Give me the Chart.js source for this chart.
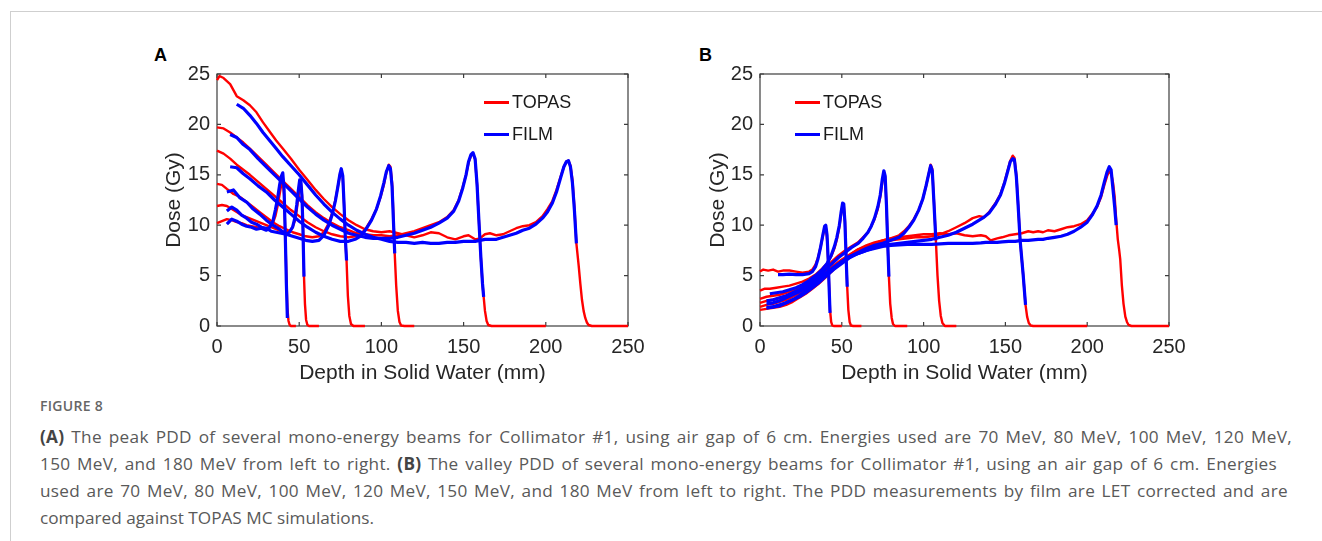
<!DOCTYPE html>
<html>
<head>
<meta charset="utf-8">
<script src="https://cdn.jsdelivr.net/npm/chart.js@4.4.1/dist/chart.umd.min.js"></script>
<style>
  body { margin: 0; width: 1322px; height: 541px; background: #fff; overflow: hidden; position: relative; font-family: "Liberation Sans", Arial, sans-serif; }
  .frame { position: absolute; left: 10px; top: 11px; right: 0; bottom: 0; border-left: 1px solid #cfcfcf; border-top: 1px solid #cfcfcf; }
  .panel { position: absolute; top: 40px; width: 520px; height: 350px; }
  .tag { position: absolute; font-weight: bold; font-size: 18px; line-height: 18px; color: #000; }
  .key { position: absolute; font-size: 18px; line-height: 20px; color: #1a1a1a; }
  .key i { position: absolute; left: -28px; top: 9px; width: 25px; height: 2.5px; }
  .cap { position: absolute; left: 40px; font-family: "Open Sans", sans-serif; color: #595959; }
  .fig { top: 396px; font-size: 14px; font-weight: 600; color: #666; letter-spacing: 0.3px; line-height: 20px; }
  .txt { top: 423px; font-size: 17.2px; line-height: 27px; }
  .txt div { text-align: justify; text-align-last: justify; letter-spacing: 0.3px; }
  .txt div.last { text-align-last: left; letter-spacing: 0; }
  .txt b { color: #444; }
</style>
</head>
<body>
<div class="frame"></div>

<div class="tag" style="left:154px; top:46px;">A</div>
<div class="tag" style="left:699px; top:46px;">B</div>

<canvas id="peakChart" class="panel" style="left:140px;" width="520" height="350"></canvas>
<canvas id="valleyChart" class="panel" style="left:690px;" width="520" height="350"></canvas>

<div class="key" style="left:512px; top:92px;"><i style="background:#ff0000"></i>TOPAS</div>
<div class="key" style="left:512px; top:124px;"><i style="background:#0000ff"></i>FILM</div>
<div class="key" style="left:823px; top:92px;"><i style="background:#ff0000"></i>TOPAS</div>
<div class="key" style="left:823px; top:124px;"><i style="background:#0000ff"></i>FILM</div>

<div class="cap fig">FIGURE 8</div>
<div class="cap txt">
  <div style="width:1252px"><b>(A)</b> The peak PDD of several mono-energy beams for Collimator #1, using air gap of 6 cm. Energies used are 70 MeV, 80 MeV, 100 MeV, 120 MeV,</div>
  <div style="width:1237px">150 MeV, and 180 MeV from left to right. <b>(B)</b> The valley PDD of several mono-energy beams for Collimator #1, using an air gap of 6 cm. Energies</div>
  <div style="width:1248px">used are 70 MeV, 80 MeV, 100 MeV, 120 MeV, 150 MeV, and 180 MeV from left to right. The PDD measurements by film are LET corrected and are</div>
  <div class="last">compared against TOPAS MC simulations.</div>
</div>

<script>
// axis ticks
const xTicks = [0, 50, 100, 150, 200, 250];
const yTicks = [0, 5, 10, 15, 20, 25];
const energies = [70, 80, 100, 120, 150, 180];

// (A) peak PDD, depth in mm, dose in Gy
const peak70Depth = [0, 3, 6, 9, 12, 15, 18, 21, 24, 27, 30, 32, 34, 35.5, 37, 38, 39, 40, 40.8, 41.5, 42.2, 42.8, 43.5, 44.2, 45, 48];
const peak70Topas = [10.2, 10.4, 10.6, 10.5, 10.3, 10.2, 10.0, 9.9, 9.8, 9.7, 9.7, 9.8, 10.2, 10.9, 12.0, 13.0, 13.9, 14.3, 13.0, 9.5, 5.0, 1.8, 0.5, 0.1, 0, 0];
const peak70Film = [null, null, 10.1, 10.6, 10.4, 10.1, 9.9, 9.8, 9.6, 9.7, 9.5, 9.8, 10.4, 11.5, 12.8, 13.9, 14.8, 15.2, 13.6, 9.2, 4.2, 0.8, null, null, null, null];

const peak80Depth = [0, 3, 6, 9, 12, 15, 18, 21, 24, 27, 30, 33, 36, 39, 42, 44, 46, 47.5, 48.5, 49.5, 50.3, 51, 51.7, 52.3, 52.9, 53.5, 54.2, 55, 56, 62];
const peak80Topas = [11.9, 12.0, 11.9, 11.6, 11.3, 11.0, 10.8, 10.6, 10.4, 10.2, 10.0, 9.8, 9.6, 9.4, 9.3, 9.4, 9.8, 10.5, 11.5, 12.8, 13.8, 14.2, 13.0, 10.0, 5.0, 2.2, 0.6, 0.1, 0, 0];
const peak80Film = [null, null, 11.4, 11.8, 11.5, 11.0, 10.7, 10.3, 10.1, 9.8, 9.7, 9.4, 9.3, 9.2, 9.1, 9.3, 9.8, 10.8, 12.0, 13.5, 14.5, 14.4, 12.8, 9.5, 4.9, null, null, null, null, null];

const peak100Depth = [0, 3, 6, 10, 14, 18, 22, 26, 30, 34, 38, 42, 46, 50, 54, 58, 62, 65, 68, 70, 72, 73.5, 74.8, 75.6, 76.5, 77.3, 78.1, 78.8, 79.6, 80.5, 81.5, 83, 90];
const peak100Topas = [14.1, 14.0, 13.6, 13.1, 12.8, 12.3, 11.8, 11.3, 10.8, 10.3, 9.9, 9.6, 9.3, 9.1, 8.9, 8.8, 8.9, 9.3, 10.2, 11.2, 12.5, 13.8, 15.0, 15.4, 14.8, 12.0, 8.5, 6.5, 3.0, 1.0, 0.2, 0, 0];
const peak100Film = [null, null, 13.3, 13.5, 12.7, 12.3, 11.6, 11.1, 10.5, 10.0, 9.6, 9.1, 8.9, 8.7, 8.5, 8.4, 8.5, 9.0, 10.0, 11.0, 12.4, 13.8, 15.1, 15.6, 14.9, 12.0, 8.6, 6.5, null, null, null, null, null];

const peak120Depth = [0, 4, 8, 12, 16, 20, 25, 30, 35, 40, 45, 50, 55, 60, 65, 70, 75, 80, 84, 88, 91, 94, 97, 99.5, 101.5, 103, 104.5, 105.5, 106.5, 107.3, 108.1, 109, 110, 111, 112, 114, 120];
const peak120Topas = [17.4, 17.1, 16.6, 16.0, 15.5, 15.0, 14.3, 13.6, 12.9, 12.2, 11.5, 10.9, 10.3, 9.8, 9.4, 9.1, 8.9, 8.8, 8.9, 9.2, 9.8, 10.6, 11.6, 12.8, 14.0, 15.2, 16.0, 15.8, 14.2, 11.0, 7.2, 4.0, 1.5, 0.4, 0.05, 0, 0];
const peak120Film = [null, null, 15.8, 15.7, 15.1, 14.6, 13.9, 13.3, 12.5, 11.8, 11.1, 10.4, 9.8, 9.3, 8.9, 8.6, 8.4, 8.4, 8.6, 9.0, 9.7, 10.5, 11.6, 12.9, 14.2, 15.3, 15.9, 15.6, 13.8, 10.5, 7.2, null, null, null, null, null, null];

const peak150Depth = [0, 4, 8, 12, 16, 20, 25, 30, 35, 40, 45, 50, 55, 60, 65, 70, 75, 80, 85, 90, 95, 100, 105, 110, 115, 120, 125, 130, 135, 140, 144, 147, 149.5, 151.5, 153, 154.5, 155.7, 157, 158.2, 159.3, 160.5, 161.5, 162.2, 163, 164, 165, 167, 200];
const peak150Topas = [19.7, 19.6, 19.2, 18.7, 18.2, 17.6, 16.8, 16.0, 15.2, 14.4, 13.6, 12.8, 12.0, 11.3, 10.7, 10.2, 9.8, 9.5, 9.2, 9.1, 9.0, 9.0, 8.9, 9.0, 9.2, 9.4, 9.7, 10.0, 10.3, 10.8, 11.5, 12.5, 13.8, 15.0, 16.2, 16.9, 17.1, 16.5, 14.0, 10.5, 6.8, 4.2, 2.9, 1.5, 0.5, 0.1, 0, 0];
const peak150Film = [null, null, 19.0, 18.7, 18.0, 17.5, 16.6, 15.8, 15.0, 14.2, 13.4, 12.6, 11.8, 11.1, 10.5, 10.0, 9.6, 9.2, 9.0, 8.8, 8.7, 8.7, 8.7, 8.8, 9.0, 9.2, 9.5, 9.8, 10.2, 10.7, 11.4, 12.4, 13.7, 15.0, 16.3, 17.0, 17.2, 16.6, 14.0, 10.5, 6.8, 4.2, 2.9, null, null, null, null, null];

const peak180Depth = [0, 1.5, 4, 8, 12, 16, 20, 24, 28, 32, 36, 40, 45, 50, 55, 60, 65, 70, 75, 80, 85, 90, 95, 100, 105, 110, 115, 120, 125, 130, 135, 140, 145, 150, 153, 157, 160, 163, 166, 170, 174, 178, 182, 186, 190, 194, 198, 201, 204, 206.5, 209, 211, 212.5, 213.8, 215, 216.2, 217.4, 218.6, 220, 221, 222, 223, 224, 225, 226, 228, 250];
const peak180Topas = [24.4, 24.8, 24.6, 24.0, 22.8, 22.4, 21.9, 21.2, 20.2, 19.3, 18.4, 17.6, 16.6, 15.5, 14.5, 13.5, 12.6, 11.8, 11.1, 10.5, 10.0, 9.6, 9.4, 9.3, 9.4, 9.2, 9.0, 8.8, 9.0, 9.3, 9.2, 8.8, 8.6, 8.9, 9.0, 8.6, 8.7, 9.1, 9.2, 9.0, 9.1, 9.4, 9.7, 9.9, 10.0, 10.3, 10.9, 11.6, 12.4, 13.5, 14.8, 15.8, 16.3, 16.4, 15.9, 14.5, 11.8, 8.2, 6.0, 4.2, 2.6, 1.5, 0.8, 0.35, 0.1, 0, 0];
const peak180Film = [null, null, null, null, 22.0, 21.6, 20.9, 20.1, 19.2, 18.4, 17.6, 16.8, 15.9, 15.0, 14.0, 13.0, 12.1, 11.3, 10.6, 10.0, 9.5, 9.1, 8.8, 8.6, 8.4, 8.3, 8.3, 8.2, 8.3, 8.2, 8.2, 8.3, 8.3, 8.4, 8.4, 8.4, 8.5, 8.6, 8.6, 8.6, 8.8, 9.0, 9.2, 9.5, 9.7, 10.1, 10.7, 11.3, 12.2, 13.3, 14.7, 15.8, 16.3, 16.4, 15.8, 14.2, 11.5, 8.2, null, null, null, null, null, null, null, null, null];

// (B) valley PDD
const valley70Depth = [0, 2, 5, 8, 11, 14, 18, 22, 26, 30, 32, 34, 35.5, 37, 38.5, 39.5, 40.2, 41, 41.7, 42.3, 42.8, 43.5, 44.2, 45, 50];
const valley70Topas = [5.4, 5.6, 5.5, 5.6, 5.4, 5.5, 5.5, 5.4, 5.3, 5.4, 5.6, 6.1, 6.8, 7.8, 9.0, 9.7, 9.8, 8.6, 6.3, 3.8, 1.6, 0.4, 0.05, 0, 0];
const valley70Film = [null, null, null, null, 5.1, 5.1, 5.15, 5.1, 5.1, 5.2, 5.4, 5.9, 6.7, 7.8, 9.1, 9.9, 10.0, 9.0, 6.5, 3.6, 1.3, null, null, null, null];

const valley80Depth = [0, 3, 6, 10, 14, 18, 22, 26, 30, 34, 38, 41, 43.5, 45.5, 47, 48.5, 49.5, 50.5, 51.2, 51.9, 52.6, 53.3, 54, 54.8, 55.6, 57, 62];
const valley80Topas = [3.5, 3.7, 3.7, 3.8, 3.9, 4.0, 4.2, 4.4, 4.7, 5.1, 5.7, 6.2, 6.9, 7.7, 8.6, 9.8, 11.0, 12.0, 12.0, 10.5, 7.5, 3.9, 1.6, 0.4, 0.05, 0, 0];
const valley80Film = [null, null, 3.2, 3.3, 3.4, 3.6, 3.8, 4.1, 4.5, 5.0, 5.6, 6.2, 7.0, 7.9, 8.8, 10.0, 11.2, 12.2, 12.1, 10.3, 7.0, 3.9, null, null, null, null, null];

const valley100Depth = [0, 4, 8, 12, 16, 20, 24, 28, 32, 36, 40, 44, 48, 52, 56, 60, 63, 66, 68, 70, 72, 73.5, 74.8, 75.7, 76.5, 77.3, 78.1, 78.8, 79.6, 80.5, 81.3, 82.5, 90];
const valley100Topas = [2.7, 2.9, 3.0, 3.1, 3.3, 3.5, 3.8, 4.2, 4.7, 5.2, 5.8, 6.4, 7.0, 7.5, 7.9, 8.3, 8.8, 9.3, 9.9, 10.6, 11.6, 12.8, 14.3, 15.2, 14.8, 12.0, 8.0, 4.9, 2.2, 0.8, 0.2, 0, 0];
const valley100Film = [null, 2.5, 2.6, 2.8, 3.0, 3.3, 3.6, 4.0, 4.5, 5.0, 5.6, 6.2, 6.8, 7.3, 7.8, 8.2, 8.7, 9.3, 9.9, 10.7, 11.8, 13.0, 14.6, 15.4, 14.9, 12.0, 8.0, 4.9, null, null, null, null, null];

const valley120Depth = [0, 4, 8, 12, 16, 20, 24, 28, 32, 36, 40, 45, 50, 55, 60, 65, 70, 75, 80, 85, 88, 91, 94, 97, 99.5, 101.5, 103, 104.3, 105.3, 106.3, 107.5, 108.5, 109.5, 110.5, 111.5, 113, 120];
const valley120Topas = [2.3, 2.5, 2.6, 2.8, 3.0, 3.3, 3.6, 4.0, 4.4, 4.9, 5.4, 6.0, 6.6, 7.1, 7.6, 8.0, 8.3, 8.5, 8.7, 9.0, 9.4, 9.9, 10.6, 11.5, 12.6, 13.9, 15.0, 16.0, 15.6, 12.5, 8.5, 5.0, 2.5, 1.0, 0.3, 0, 0];
const valley120Film = [null, 2.2, 2.3, 2.5, 2.8, 3.1, 3.4, 3.8, 4.2, 4.7, 5.2, 5.8, 6.4, 6.9, 7.3, 7.7, 8.0, 8.2, 8.5, 8.8, 9.2, 9.8, 10.5, 11.5, 12.6, 13.9, 15.0, 15.9, 15.4, 12.3, 8.5, null, null, null, null, null, null];

const valley150Depth = [0, 4, 8, 12, 16, 20, 24, 28, 32, 36, 40, 45, 50, 55, 60, 65, 70, 75, 80, 85, 90, 95, 100, 105, 110, 115, 120, 125, 130, 134, 137, 140, 144, 147, 149.5, 151.5, 153, 154.5, 155.5, 156.7, 157.8, 159, 160.8, 162.3, 163.3, 164.3, 165.5, 167, 200];
const valley150Topas = [1.9, 2.1, 2.2, 2.4, 2.6, 2.9, 3.2, 3.6, 4.1, 4.6, 5.2, 5.9, 6.5, 7.1, 7.6, 7.9, 8.2, 8.4, 8.5, 8.6, 8.7, 8.8, 8.8, 8.9, 9.1, 9.4, 9.8, 10.2, 10.7, 10.9, 10.8, 11.3, 12.2, 13.1, 14.3, 15.5, 16.4, 16.9, 16.7, 15.0, 12.0, 8.5, 5.2, 2.1, 0.9, 0.3, 0.05, 0, 0];
const valley150Film = [null, 1.8, 1.9, 2.1, 2.3, 2.6, 2.9, 3.3, 3.8, 4.3, 4.9, 5.6, 6.2, 6.8, 7.2, 7.5, 7.8, 8.0, 8.1, 8.2, 8.3, 8.4, 8.5, 8.6, 8.8, 9.0, 9.3, 9.7, 10.1, 10.5, 10.8, 11.2, 12.1, 13.0, 14.2, 15.4, 16.3, 16.6, 16.5, 14.8, 11.9, 8.5, 5.2, 2.1, null, null, null, null, null];

const valley180Depth = [0, 4, 8, 12, 16, 20, 24, 28, 32, 36, 40, 45, 50, 55, 60, 65, 70, 75, 80, 85, 90, 95, 100, 105, 110, 115, 120, 125, 130, 135, 138, 141, 145, 148, 152, 156, 160, 164, 167, 170, 173, 176, 180, 184, 188, 192, 196, 200, 203, 206, 208.5, 210.5, 212.2, 213.5, 214.6, 215.8, 216.8, 217.7, 218.7, 219.5, 220.2, 221.2, 222.2, 223.3, 224.3, 225.3, 227, 250];
const valley180Topas = [1.6, 1.7, 1.8, 1.9, 2.1, 2.4, 2.8, 3.2, 3.7, 4.2, 4.8, 5.6, 6.4, 7.0, 7.5, 7.9, 8.2, 8.5, 8.7, 8.8, 8.9, 9.0, 9.1, 9.1, 9.2, 9.1, 9.2, 9.0, 8.9, 9.0, 8.9, 8.5, 8.7, 8.8, 9.0, 9.1, 9.2, 9.4, 9.3, 9.4, 9.3, 9.5, 9.4, 9.6, 9.8, 9.9, 10.1, 10.5, 11.1, 11.8, 12.8, 14.0, 14.9, 15.3, 15.2, 14.2, 12.8, 10.6, 8.6, 7.6, 6.6, 4.0, 2.2, 0.93, 0.4, 0.1, 0, 0];
const valley180Film = [null, 1.8, 1.9, 2.0, 2.3, 2.6, 3.0, 3.5, 4.0, 4.6, 5.2, 5.8, 6.4, 6.9, 7.2, 7.5, 7.7, 7.9, 8.0, 8.05, 8.1, 8.1, 8.1, 8.1, 8.15, 8.2, 8.2, 8.2, 8.2, 8.25, 8.3, 8.3, 8.3, 8.35, 8.4, 8.4, 8.5, 8.5, 8.55, 8.6, 8.6, 8.7, 8.8, 8.9, 9.1, 9.4, 9.8, 10.3, 11.0, 11.9, 13.0, 14.3, 15.3, 15.8, 15.5, 13.5, 11.8, 10.0, null, null, null, null, null, null, null, null, null, null];

const peakCurves = [
  [peak70Depth, peak70Topas, peak70Film],
  [peak80Depth, peak80Topas, peak80Film],
  [peak100Depth, peak100Topas, peak100Film],
  [peak120Depth, peak120Topas, peak120Film],
  [peak150Depth, peak150Topas, peak150Film],
  [peak180Depth, peak180Topas, peak180Film]
];
const valleyCurves = [
  [valley70Depth, valley70Topas, valley70Film],
  [valley80Depth, valley80Topas, valley80Film],
  [valley100Depth, valley100Topas, valley100Film],
  [valley120Depth, valley120Topas, valley120Film],
  [valley150Depth, valley150Topas, valley150Film],
  [valley180Depth, valley180Topas, valley180Film]
];

const FONT = '"Liberation Sans", Arial, sans-serif';
const INK = '#262626';

function buildSets(curves) {
  const sets = [];
  curves.forEach(function(c, i) {
    const depth = c[0];
    sets.push({
      label: 'TOPAS ' + energies[i] + ' MeV',
      data: depth.map((d, k) => ({ x: d, y: c[1][k] })),
      borderColor: '#ff0000',
      borderWidth: 2.4,
      order: 2
    });
    sets.push({
      label: 'FILM ' + energies[i] + ' MeV',
      data: depth.map((d, k) => ({ x: d, y: c[2][k] })),
      borderColor: '#0000ff',
      borderWidth: 3.2,
      order: 1
    });
  });
  return sets;
}

// MATLAB-style box with inward ticks, drawn under the lines
const boxPlugin = {
  id: 'box',
  beforeDatasetsDraw(chart) {
    const { ctx, chartArea: a, scales } = chart;
    ctx.save();
    ctx.strokeStyle = '#3c3c3c';
    ctx.lineWidth = 1.2;
    ctx.strokeRect(a.left, a.top, a.right - a.left, a.bottom - a.top);
    ctx.beginPath();
    xTicks.forEach(v => {
      const px = scales.x.getPixelForValue(v);
      ctx.moveTo(px, a.bottom); ctx.lineTo(px, a.bottom - 4);
      ctx.moveTo(px, a.top); ctx.lineTo(px, a.top + 4);
    });
    yTicks.forEach(v => {
      const py = scales.y.getPixelForValue(v);
      ctx.moveTo(a.left, py); ctx.lineTo(a.left + 4, py);
      ctx.moveTo(a.right, py); ctx.lineTo(a.right - 4, py);
    });
    ctx.stroke();
    ctx.restore();
  }
};

function makePanel(id, curves, yWidth, padRight, yTitlePad) {
  const ctx = document.getElementById(id).getContext('2d');
  return new Chart(ctx, {
    type: 'line',
    data: { datasets: buildSets(curves) },
    plugins: [boxPlugin],
    options: {
      responsive: false,
      animation: false,
      devicePixelRatio: 1,
      layout: { padding: { left: 0, top: 34, right: padRight, bottom: 0 } },
      plugins: { legend: { display: false }, tooltip: { enabled: false } },
      elements: { point: { radius: 0 }, line: { tension: 0, borderJoinStyle: 'round' } },
      datasets: { line: { clip: false, spanGaps: false } },
      scales: {
        x: {
          type: 'linear', min: 0, max: 250,
          afterBuildTicks: s => { s.ticks = xTicks.map(v => ({ value: v })); },
          grid: { display: false, drawTicks: false },
          border: { display: false },
          ticks: { color: INK, font: { family: FONT, size: 20 }, padding: 9, maxRotation: 0 },
          title: { display: true, text: 'Depth in Solid Water (mm)', color: INK, font: { family: FONT, size: 21 }, padding: { top: 0, bottom: 4 } },
          afterFit: s => { s.height = 64; }
        },
        y: {
          type: 'linear', min: 0, max: 25,
          afterBuildTicks: s => { s.ticks = yTicks.map(v => ({ value: v })); },
          grid: { display: false, drawTicks: false },
          border: { display: false },
          ticks: { color: INK, font: { family: FONT, size: 20 }, padding: 7 },
          title: { display: true, text: 'Dose (Gy)', color: INK, font: { family: FONT, size: 21 }, padding: { top: yTitlePad, bottom: 0 } },
          afterFit: s => { s.width = yWidth; }
        }
      }
    }
  });
}

makePanel('peakChart', peakCurves, 77, 32, 22);
makePanel('valleyChart', valleyCurves, 70, 41, 16);
</script>
</body>
</html>
